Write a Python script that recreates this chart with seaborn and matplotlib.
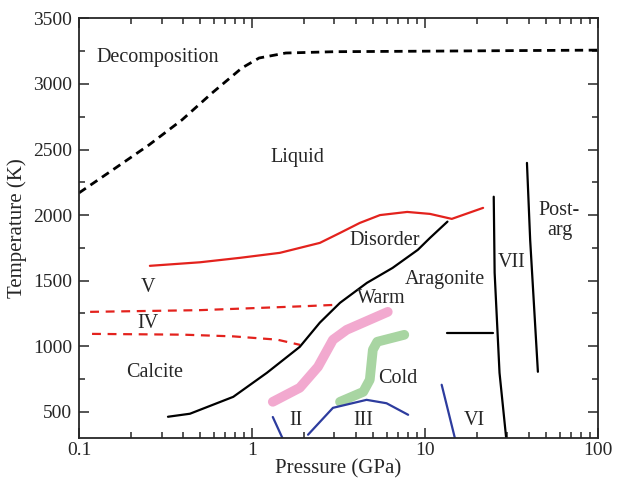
import numpy as np
import pandas as pd
import seaborn as sns
from matplotlib import pyplot as plt
from matplotlib.ticker import FixedLocator, NullFormatter

# boundaries (pressure in GPa, temperature in K)
decomp_p = [0.1, 0.163, 0.254, 0.394, 0.588, 0.875, 1.1, 1.57, 3.0, 10, 30, 100]
decomp_t = [2169, 2360, 2535, 2726, 2931, 3122, 3198, 3236, 3246, 3250, 3254, 3258]

disorder_p = [0.257, 0.5, 0.853, 1.45, 2.47, 3.23, 4.2, 5.5, 7.9, 10.7, 14.3, 21.7]
disorder_t = [1613, 1640, 1674, 1712, 1788, 1864, 1940, 2000, 2024, 2009, 1971, 2055]

arag_p = [0.327, 0.438, 0.78, 1.22, 1.89, 2.47, 3.23, 4.62, 6.5, 9.1, 10.7, 13.5]
arag_t = [462, 485, 614, 797, 995, 1180, 1331, 1483, 1597, 1735, 1826, 1950]

iv_v_p = [0.116, 0.5, 1.0, 2.0, 3.1]
iv_v_t = [1262, 1275, 1290, 1305, 1316]

iv_calc_p = [0.119, 0.4, 0.78, 1.4, 1.9]
iv_calc_t = [1094, 1088, 1075, 1050, 1010]

warm_p = [1.32, 1.89, 2.41, 2.94, 3.53, 6.1]
warm_t = [576, 683, 843, 1049, 1125, 1262]

cold_p = [3.23, 4.4, 4.8, 5.0, 5.3, 7.6]
cold_t = [576, 652, 744, 973, 1034, 1087]

ii_p = [1.32, 1.5]
ii_t = [460, 300]

iii_p = [2.11, 2.94, 4.6, 6.0, 8.0]
iii_t = [325, 530, 591, 565, 477]

vi_p = [12.5, 14.9]
vi_t = [706, 300]

step_p = [13.5, 24.8]
step_t = [1100, 1100]

vii_p = [25.0, 25.3, 27.0, 29.5]
vii_t = [2140, 1560, 797, 300]

post_p = [38.9, 40.6, 45.0]
post_t = [2398, 1811, 805]

# region labels
labels = ["Decomposition", "Liquid", "Disorder", "Aragonite", "VII", "Post-\narg",
          "V", "IV", "Calcite", "Warm", "Cold", "II", "III", "VI"]
label_p = [0.286, 1.84, 5.87, 13.1, 31.8, 60, 0.25, 0.25, 0.275, 5.57, 6.98, 1.79, 4.38, 19.2]
label_t = [3198, 2436, 1803, 1506, 1636, 1960, 1445, 1171, 797, 1361, 751, 431, 431, 431]

sns.set_style("ticks")
plt.rcParams['font.family'] = ['Liberation Serif', 'DejaVu Serif']

fig = plt.figure(figsize=(6.17, 4.79), dpi=100)
ax = fig.add_axes([0.128, 0.0856, 0.841, 0.876])

red = "#e3221d"
blue = "#2d3c9e"


def curve(p, t, **kw):
    df = pd.DataFrame({"P": p, "T": t})
    sns.lineplot(data=df, x="P", y="T", sort=False, estimator=None, ax=ax, **kw)


curve(decomp_p, decomp_t, color="black", lw=2.0, dashes=(3, 2))
curve(disorder_p, disorder_t, color=red, lw=1.6)
curve(iv_v_p, iv_v_t, color=red, lw=1.6, dashes=(4, 3))
curve(iv_calc_p, iv_calc_t, color=red, lw=1.6, dashes=(4, 3))
curve(warm_p, warm_t, color="#f2a9cf", lw=7, solid_capstyle="round")
curve(cold_p, cold_t, color="#a8d5a2", lw=7, solid_capstyle="round")
curve(arag_p, arag_t, color="black", lw=1.6)
curve(ii_p, ii_t, color=blue, lw=1.6)
curve(iii_p, iii_t, color=blue, lw=1.6)
curve(vi_p, vi_t, color=blue, lw=1.6)
curve(step_p, step_t, color="black", lw=1.6)
curve(vii_p, vii_t, color="black", lw=1.6)
curve(post_p, post_t, color="black", lw=1.6)

for s, p, t in zip(labels, label_p, label_t):
    ax.text(p, t, s, ha="center", va="center", fontsize=14.5, linespacing=1.1)

ax.set_xscale("log")
ax.set_xlim(0.1, 100)
ax.set_ylim(300, 3500)
ax.set_yticks([500, 1000, 1500, 2000, 2500, 3000, 3500])
ax.yaxis.set_minor_locator(FixedLocator(np.arange(500, 3500, 250)))
ax.set_xticks([0.1, 1, 10, 100])
ax.set_xticklabels(["0.1", "1", "10", "100"])
ax.xaxis.set_minor_formatter(NullFormatter())
ax.tick_params(which="both", direction="in", top=True, right=True, labelsize=14, width=1.1)
ax.tick_params(axis="x", pad=3)
ax.tick_params(axis="y", pad=5)
ax.tick_params(which="major", length=7)
ax.tick_params(which="minor", length=4)
for sp in ax.spines.values():
    sp.set_linewidth(1.3)
ax.set_xlabel("Pressure (GPa)", fontsize=15, labelpad=0)
ax.set_ylabel("Temperature (K)", fontsize=15, labelpad=4)

fig.savefig("out.png", dpi=100)
